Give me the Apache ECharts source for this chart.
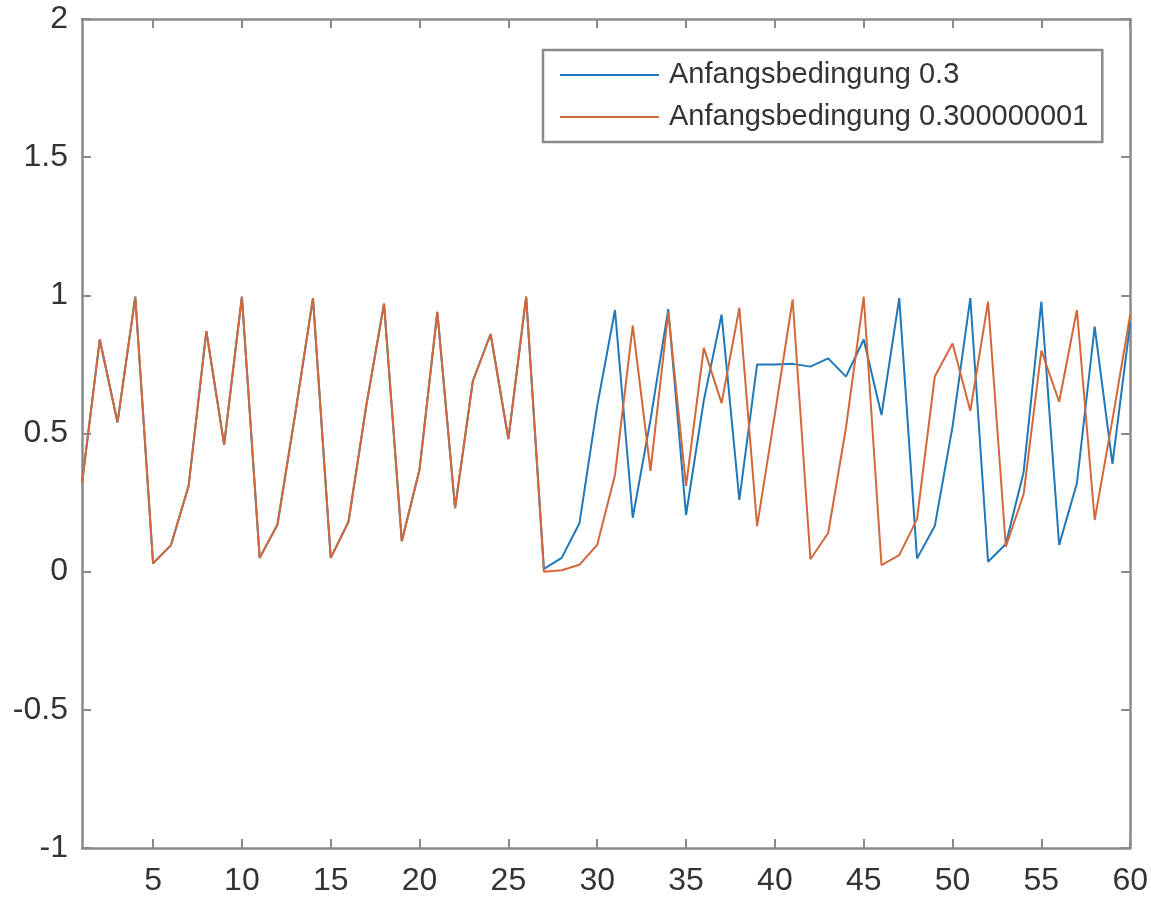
<!DOCTYPE html>
<html>
<head>
<meta charset="utf-8">
<script src="https://cdn.jsdelivr.net/npm/echarts@6/dist/echarts.min.js"></script>
<style>
html,body{margin:0;padding:0;background:#fff;}
#chart{width:1151px;height:901px;}
</style>
</head>
<body>
<div id="chart"></div>
<script>
const steps = [1,2,3,4,5,6,7,8,9,10,11,12,13,14,15,16,17,18,19,20,21,22,23,24,25,26,27,28,29,30,31,32,33,34,35,36,37,38,39,40,41,42,43,44,45,46,47,48,49,50,51,52,53,54,55,56,57,58,59,60];
const seriesA = [0.32,0.84,0.54,0.995,0.03,0.095,0.31,0.87,0.46,0.995,0.05,0.17,0.57,0.99,0.05,0.18,0.6,0.97,0.11,0.37,0.94,0.23,0.69,0.86,0.48,0.995,0.01,0.05,0.175,0.6,0.947,0.195,0.55,0.95,0.205,0.62,0.93,0.26,0.75,0.75,0.752,0.742,0.772,0.706,0.84,0.567,0.99,0.048,0.165,0.525,0.99,0.036,0.1,0.36,0.977,0.097,0.32,0.887,0.39,0.9];
const seriesB = [0.32,0.84,0.54,0.995,0.03,0.095,0.31,0.87,0.46,0.995,0.05,0.17,0.57,0.99,0.05,0.18,0.6,0.97,0.11,0.37,0.94,0.23,0.69,0.86,0.48,0.995,0.0,0.005,0.025,0.097,0.35,0.89,0.365,0.94,0.31,0.81,0.61,0.955,0.165,0.57,0.985,0.045,0.14,0.52,0.995,0.024,0.06,0.19,0.706,0.826,0.582,0.977,0.09,0.28,0.8,0.615,0.947,0.187,0.55,0.93];
const xTicks = [5,10,15,20,25,30,35,40,45,50,55,60];
const nameA = 'Anfangsbedingung 0.3';
const nameB = 'Anfangsbedingung 0.300000001';

const axisColor = '#8a8a8a';
const textColor = '#333333';
const font = "'Liberation Sans', Arial, Helvetica, sans-serif";

const chart = echarts.init(document.getElementById('chart'), null, {renderer: 'canvas'});
const pair = (xs, ys) => xs.map((x, i) => [x, ys[i]]);

chart.setOption({
  animation: false,
  backgroundColor: '#ffffff',
  grid: {left: 82, top: 19, right: 19, bottom: 53, containLabel: false},
  legend: {
    data: [nameA, nameB],
    orient: 'vertical',
    left: 543,
    top: 50,
    icon: 'rect',
    itemWidth: 99,
    itemHeight: 2,
    itemGap: 12,
    padding: [10, 14, 10, 17],
    borderColor: axisColor,
    borderWidth: 2.5,
    backgroundColor: '#ffffff',
    textStyle: {fontFamily: font, fontSize: 29, color: textColor, lineHeight: 30, padding: [0, 0, 0, 5]}
  },
  xAxis: [{
    type: 'value', min: 1, max: 60, position: 'bottom',
    axisLine: {show: true, onZero: false, lineStyle: {color: axisColor, width: 2.5}},
    axisTick: {show: true, inside: true, length: 9, customValues: xTicks, lineStyle: {color: axisColor, width: 2}},
    axisLabel: {show: true, customValues: xTicks, margin: 17, fontFamily: font, fontSize: 32, color: textColor},
    splitLine: {show: false}
  }, {
    type: 'value', min: 1, max: 60, position: 'top',
    axisLine: {show: true, onZero: false, lineStyle: {color: axisColor, width: 2.5}},
    axisTick: {show: true, inside: true, length: 9, customValues: xTicks, lineStyle: {color: axisColor, width: 2}},
    axisLabel: {show: false},
    splitLine: {show: false}
  }],
  yAxis: [{
    type: 'value', min: -1, max: 2, interval: 0.5, position: 'left',
    axisLine: {show: true, onZero: false, lineStyle: {color: axisColor, width: 2.5}},
    axisTick: {show: true, inside: true, length: 9, lineStyle: {color: axisColor, width: 2}},
    axisLabel: {show: true, margin: 14, fontFamily: font, fontSize: 32, color: textColor},
    splitLine: {show: false}
  }, {
    type: 'value', min: -1, max: 2, interval: 0.5, position: 'right',
    axisLine: {show: true, onZero: false, lineStyle: {color: axisColor, width: 2.5}},
    axisTick: {show: true, inside: true, length: 9, lineStyle: {color: axisColor, width: 2}},
    axisLabel: {show: false},
    splitLine: {show: false}
  }],
  series: [{
    name: nameA, type: 'line', xAxisIndex: 0, yAxisIndex: 0,
    data: pair(steps, seriesA), symbol: 'none', smooth: false,
    lineStyle: {color: '#1f78b9', width: 2}, itemStyle: {color: '#1f78b9'}
  }, {
    name: nameB, type: 'line', xAxisIndex: 0, yAxisIndex: 0,
    data: pair(steps, seriesB), symbol: 'none', smooth: false,
    lineStyle: {color: '#d2683a', width: 2}, itemStyle: {color: '#d2683a'}
  }]
});
</script>
</body>
</html>
